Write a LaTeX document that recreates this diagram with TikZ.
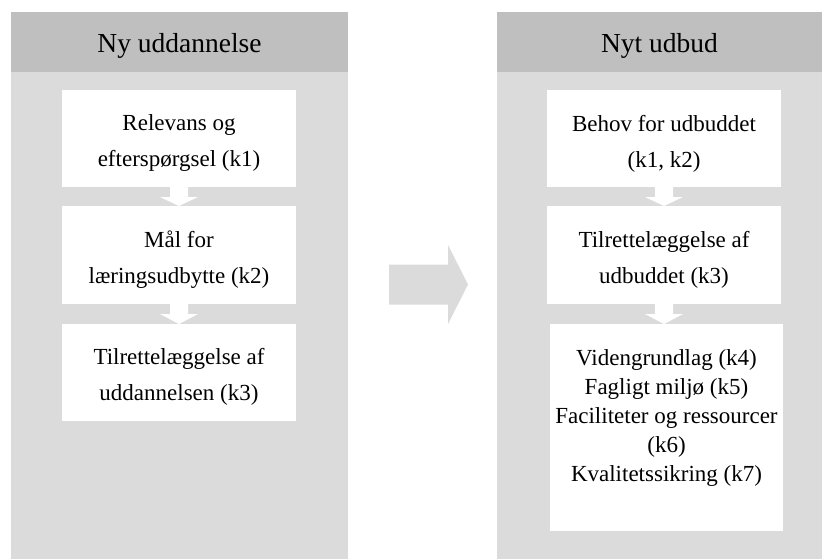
\documentclass[tikz,border=0pt]{standalone}
\usepackage{fontspec}
\setmainfont{Liberation Serif}
\usetikzlibrary{calc}
\definecolor{hdrgray}{HTML}{BFBFBF}
\definecolor{bodygray}{HTML}{DBDBDB}
\newcommand{\flowarr}[2]{%
  \fill[white] ($(#1.south)+(-9,0)$) -- ($(#1.south)+(-9,10)$) -- ($(#1.south)+(-19,10)$)
    -- (#1.south |- #2.north) -- ($(#1.south)+(19,10)$) -- ($(#1.south)+(9,10)$)
    -- ($(#1.south)+(9,0)$) -- cycle;}
\begin{document}
\begin{tikzpicture}[x=1pt,y=-1pt,
  panelbody/.style={fill=bodygray, draw=none, inner sep=0pt, outer sep=0pt, anchor=north west},
  panelhead/.style={fill=hdrgray, draw=none, inner sep=0pt, outer sep=0pt, anchor=north west},
  headtext/.style={inner sep=0pt, font=\fontsize{27.5}{33}\selectfont},
  stepbox/.style={fill=white, draw=none, inner sep=0pt, outer sep=0pt, anchor=north west},
  twoline/.style={inner sep=0pt, align=center, font=\fontsize{23}{36}\selectfont},
  steptext/.style={inner sep=0pt, align=center, font=\fontsize{23}{29}\selectfont}]
\useasboundingbox (0,0) rectangle (822,559);
% left panel
\node[panelbody, minimum width=337pt, minimum height=487pt] (lbody) at (11,72) {};
\node[panelhead, minimum width=337pt, minimum height=60pt] (lhead) at (11,12) {};
\node[headtext] (lheadt) at ($(lhead.center)+(0,4)$) {Ny uddannelse};
% right panel
\node[panelbody, minimum width=325pt, minimum height=487pt] (rbody) at (497,72) {};
\node[panelhead, minimum width=325pt, minimum height=60pt] (rhead) at (497,12) {};
\node[headtext] (rheadt) at ($(rhead.center)+(0,4)$) {Nyt udbud};
% left boxes
\node[stepbox, minimum width=234pt, minimum height=97pt] (lb1) at (62,90) {};
\node[twoline] (lb1t) at ($(lb1.center)+(0,5)$) {Relevans og\\efterspørgsel (k1)};
\node[stepbox, minimum width=234pt, minimum height=98pt] (lb2) at (62,206) {};
\node[twoline] (lb2t) at ($(lb2.center)+(0,5)$) {Mål for\\læringsudbytte (k2)};
\node[stepbox, minimum width=234pt, minimum height=97pt] (lb3) at (62,324) {};
\node[twoline] (lb3t) at ($(lb3.center)+(0,4)$) {Tilrettelæggelse af\\uddannelsen (k3)};
% right boxes
\node[stepbox, minimum width=234pt, minimum height=97pt] (rb1) at (547,90) {};
\node[twoline] (rb1t) at ($(rb1.center)+(0,5)$) {Behov for udbuddet\\(k1, k2)};
\node[stepbox, minimum width=234pt, minimum height=98pt] (rb2) at (547,206) {};
\node[twoline] (rb2t) at ($(rb2.center)+(0,5)$) {Tilrettelæggelse af\\udbuddet (k3)};
\node[stepbox, minimum width=233pt, minimum height=207pt] (rb3) at (550,324) {};
\node[steptext] (rb3t) at ($(rb3.center)+(0,-10)$) {Videngrundlag (k4)\\Fagligt miljø (k5)\\Faciliteter og ressourcer\\(k6)\\Kvalitetssikring (k7)};
% small arrows
\flowarr{lb1}{lb2}
\flowarr{lb2}{lb3}
\flowarr{rb1}{rb2}
\flowarr{rb2}{rb3}
% big arrow between panels
\coordinate (bigtail) at (389,284.5);
\fill[bodygray] ($(bigtail)+(0,-20)$) -- ($(bigtail)+(59,-20)$) -- ($(bigtail)+(59,-39.5)$)
  -- ($(bigtail)+(79,0)$) -- ($(bigtail)+(59,39.5)$) -- ($(bigtail)+(59,20)$)
  -- ($(bigtail)+(0,20)$) -- cycle;
\end{tikzpicture}
\end{document}
